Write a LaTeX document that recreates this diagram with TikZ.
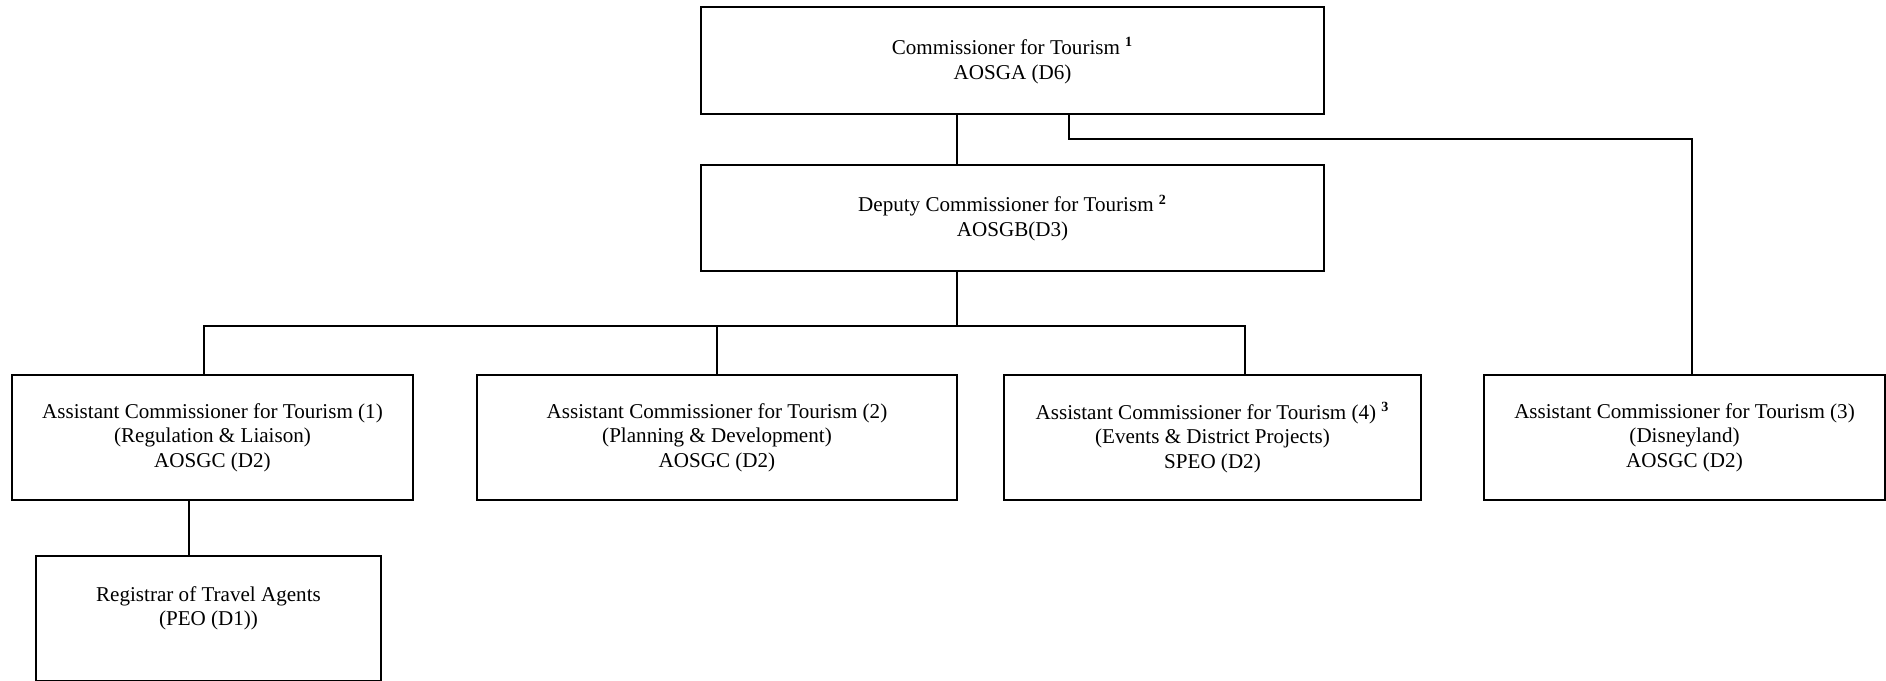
\documentclass[tikz,border=0pt]{standalone}
\usepackage{fontspec}
\setmainfont{Liberation Serif}
\usetikzlibrary{positioning, calc}

\tikzset{
  post/.style={draw, rectangle, line width=1pt, align=center, inner sep=2pt,
    font=\fontsize{12}{14}\selectfont},
  link/.style={line width=1pt}
}

\begin{document}
\begin{tikzpicture}[x=0.02cm, y=-0.02cm]
  \useasboundingbox (0,0) rectangle (1886,680);

  \node[post, minimum width=12.46cm, minimum height=2.14cm] (comm) at (1012.5,60.5)
    {Commissioner for Tourism \textsuperscript{\textbf{1}}\\AOSGA (D6)};
  \node[post, minimum width=12.46cm, minimum height=2.12cm] (deputy) at (1012.5,218)
    {Deputy Commissioner for Tourism \textsuperscript{\textbf{2}}\\AOSGB(D3)};

  \node[post, minimum width=8.02cm, minimum height=2.5cm] (ac1) at (212.5,437.5)
    {Assistant Commissioner for Tourism (1)\\(Regulation \& Liaison)\\AOSGC (D2)};
  \node[post, minimum width=9.6cm, minimum height=2.5cm] (ac2) at (717,437.5)
    {Assistant Commissioner for Tourism (2)\\(Planning \& Development)\\AOSGC (D2)};
  \node[post, minimum width=8.34cm, minimum height=2.5cm] (ac4) at (1212.5,437.5)
    {Assistant Commissioner for Tourism (4) \textsuperscript{\textbf{3}}\\(Events \& District Projects)\\SPEO (D2)};
  \node[post, minimum width=8.02cm, minimum height=2.5cm] (ac3) at (1684.5,437.5)
    {Assistant Commissioner for Tourism (3)\\(Disneyland)\\AOSGC (D2)};

  \node[post, minimum width=6.9cm, minimum height=2.5cm] (reg) at (208.5,618.5)
    {Registrar of Travel Agents\\(PEO (D1))\\ };

  % trunk and branches
  \coordinate (trunk) at (957,326);
  \coordinate (side) at (1069,139);
  \coordinate (dis) at (1692,139);
  \coordinate (drop1) at (204,326);
  \coordinate (drop4) at (1245,326);
  \coordinate (regx) at (189,0);

  \draw[link] (trunk |- comm.south) -- (trunk |- deputy.north);
  \draw[link] (side |- comm.south) -- (side) -- (dis) -- (dis |- ac3.north);

  \draw[link] (trunk |- deputy.south) -- (trunk);
  \draw[link] (drop1 |- ac1.north) -- (drop1) -- (drop4) -- (drop4 |- ac4.north);
  \draw[link] (ac2.north) -- (ac2.north |- trunk);

  \draw[link] (regx |- ac1.south) -- (regx |- reg.north);
\end{tikzpicture}
\end{document}
